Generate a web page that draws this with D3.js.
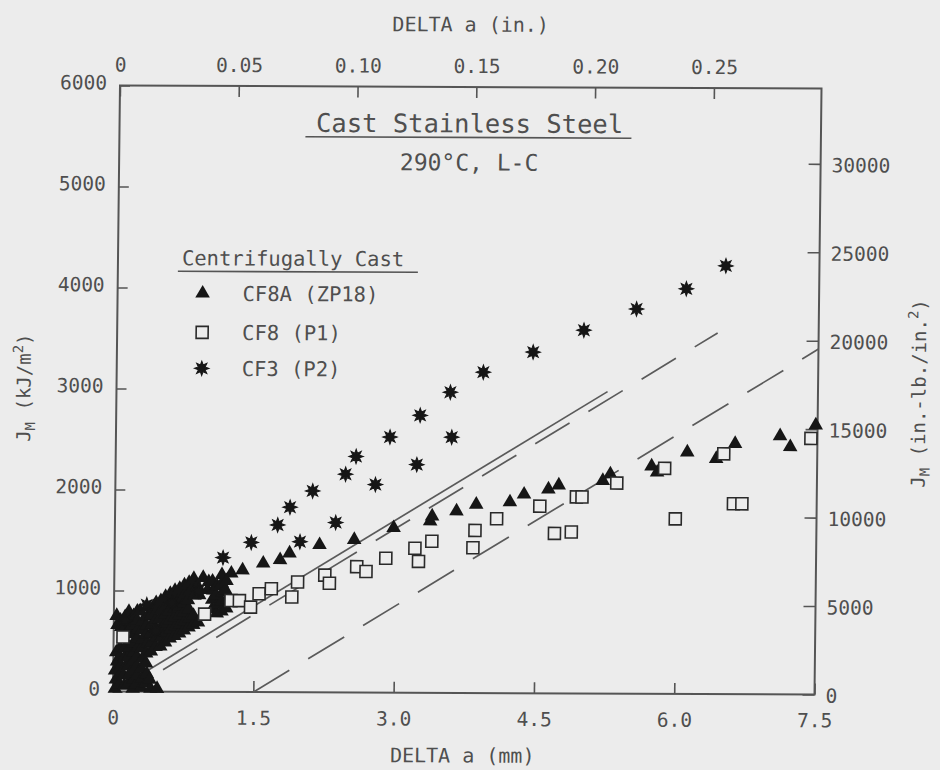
<!DOCTYPE html>
<html>
<head>
<meta charset="utf-8">
<script src="https://cdn.jsdelivr.net/npm/d3@7"></script>
<style>
  html, body { margin: 0; padding: 0; background: #ececec; }
  svg { display: block; }
  text { font-family: "DejaVu Sans Mono", monospace; fill: #4f4f4f; }
</style>
</head>
<body>
<svg id="chart" width="940" height="770"></svg>
<script>
// ---------------- data ----------------
// Crack extension (mm) and J_M (kJ/m^2) for each heat
const cf8a = [ // CF8A (ZP18)
  // early blunting region, many closely spaced readings
  [0.02,30],[0.03,120],[0.02,210],[0.04,300],[0.03,390],[0.04,660],[0.03,750],
  [0.07,75],[0.07,165],[0.08,255],[0.07,345],[0.07,435],[0.08,640],[0.07,705],
  [0.12,60],[0.11,160],[0.13,250],[0.12,340],[0.12,430],[0.13,650],[0.12,740],
  [0.16,75],[0.17,165],[0.16,255],[0.16,345],[0.17,435],[0.16,615],[0.17,705],[0.16,790],
  [0.21,30],[0.22,120],[0.20,210],[0.21,300],[0.22,390],[0.21,480],[0.22,570],[0.20,660],[0.21,750],
  [0.25,75],[0.26,165],[0.25,255],[0.25,345],[0.26,435],[0.25,525],[0.26,615],[0.25,705],[0.25,795],
  [0.30,40],[0.31,130],[0.30,230],[0.31,330],[0.30,430],[0.31,520],[0.30,610],[0.31,700],[0.28,800],
  [0.35,85],[0.36,175],[0.35,280],[0.35,380],[0.36,475],[0.35,565],[0.35,655],[0.36,745],[0.35,835],
  [0.40,30],[0.39,120],[0.47,30],[0.40,400],[0.41,490],[0.40,580],[0.41,670],[0.40,760],[0.42,840],
  [0.45,445],[0.46,535],[0.45,625],[0.45,715],[0.46,805],[0.45,880],
  [0.50,450],[0.51,540],[0.50,630],[0.49,720],[0.51,810],[0.50,900],
  [0.55,490],[0.56,585],[0.55,675],[0.55,765],[0.56,855],[0.55,940],
  [0.60,530],[0.61,620],[0.60,710],[0.59,800],[0.61,890],[0.60,970],
  [0.65,555],[0.66,645],[0.65,735],[0.65,825],[0.66,915],[0.65,1000],
  [0.70,580],[0.71,670],[0.70,760],[0.69,850],[0.71,940],[0.70,1020],
  [0.75,610],[0.76,700],[0.75,790],[0.75,880],[0.76,970],[0.75,1055],
  [0.80,640],[0.81,730],[0.80,820],[0.79,910],[0.81,1000],[0.80,1080],
  [0.85,665],[0.85,755],[0.86,955],[0.85,1045],[0.85,1120],
  [0.90,690],[0.91,960],[0.89,1050],[0.95,1130],[1.00,1010],[1.01,1090],
  [1.05,820],[1.05,915],[1.06,1005],[1.05,1095],
  [1.10,780],[1.11,870],[1.09,960],[1.10,1050],
  [1.15,800],[1.15,895],[1.16,985],[1.15,1075],[1.15,1160],
  [1.20,830],[1.21,920],[1.19,1010],[1.20,1100],[1.25,1175],
  // main curve
  [1.37,1207],[1.59,1275],[1.77,1310],[1.87,1376],[2.19,1461],[2.56,1513],
  [2.98,1632],[3.37,1700],[3.39,1749],[3.65,1800],[3.86,1867],[4.22,1892],
  [4.37,1969],[4.63,2021],[4.74,2061],[5.21,2107],[5.29,2173],[5.73,2253],
  [5.79,2193],[6.11,2393],[6.42,2330],[6.62,2479],[7.10,2558],[7.21,2450],[7.48,2666]
];
const cf8 = [ // CF8 (P1)
  [0.10,540],[0.97,770],[1.25,905],[1.34,905],[1.46,841],[1.55,974],[1.68,1024],
  [1.90,943],[1.96,1092],[2.25,1161],[2.30,1081],[2.59,1246],[2.69,1199],
  [2.90,1331],[3.21,1431],[3.25,1301],[3.39,1501],[3.83,1438],[3.85,1610],
  [4.08,1727],[4.54,1853],[4.70,1584],[4.88,1599],[4.93,1946],[4.99,1946],
  [5.36,2085],[5.87,2233],[5.99,1733],[6.50,2379],[6.61,1885],[6.70,1885],[7.43,2535]
];
const cf3 = [ // CF3 (P2)
  [0.12,700],[0.35,860],[0.45,600],[0.62,880],[0.90,1000],[1.16,1330],
  [1.46,1482],[1.74,1656],[1.87,1832],[1.98,1491],[2.11,1994],[2.36,1682],
  [2.46,2161],[2.57,2337],[2.78,2060],[2.93,2531],[3.22,2259],[3.25,2747],
  [3.57,2977],[3.59,2532],[3.92,3177],[4.45,3378],[4.99,3597],[5.55,3809],
  [6.08,4011],[6.50,4240]
];

// Blunting line and the 0.15 mm / 1.5 mm offset lines (end points)
const bluntingLine = [[0, 0], [5.25, 2990]];
const offsetLine015 = [[0.15, 0], [6.42, 3575]];
const offsetLine15 = [[1.5, 0], [7.5, 3420]];

// Tick values
const xTicksMm = [0, 1.5, 3.0, 4.5, 6.0, 7.5];
const xTicksIn = [0, 0.05, 0.10, 0.15, 0.20, 0.25];
const yTicksKJ = [0, 1000, 2000, 3000, 4000, 5000, 6000];
const yTicksInLb = [0, 5000, 10000, 15000, 20000, 25000, 30000];

const legendItems = ["CF8A (ZP18)", "CF8 (P1)", "CF3 (P2)"];

// Unit conversions
const MM_PER_IN = 25.4;
const INLB_PER_KJ = 5.7101; // 1 kJ/m^2 = 5.7101 in.-lb./in.^2

// ---------------- layout ----------------
const L = 120, T = 85.5, W = 701.5, H = 606;
const BG = "#ececec", INK = "#161616", GREY = "#555";

const svg = d3.select("#chart");
svg.append("rect").attr("width", 940).attr("height", 770).attr("fill", BG);

// the whole figure sits at a slight tilt
const root = svg.append("g")
  .attr("transform", `translate(${L},${T}) matrix(1,0.00428,-0.01155,1,0,0) translate(${-L},${-T})`);

const x = d3.scaleLinear().domain([0, 7.5]).range([L, L + W]);
const y = d3.scaleLinear().domain([0, 6000]).range([T + H, T]);
const xIn = d3.scaleLinear().domain([0, 7.5 / MM_PER_IN]).range([L, L + W]);
const yIn = d3.scaleLinear().domain([0, 6000 * INLB_PER_KJ]).range([T + H, T]);

function styleAxis(g, size) {
  g.select(".domain").remove();
  g.attr("font-family", null).attr("font-size", null).attr("color", GREY);
  g.selectAll(".tick line").attr("stroke-width", 1.6);
  g.selectAll(".tick text").style("font-size", size + "px");
}

// bottom axis (mm)
root.append("g")
  .attr("transform", `translate(0,${T + H})`)
  .call(d3.axisBottom(x).tickValues(xTicksMm)
    .tickFormat(d => d === 0 ? "0" : d.toFixed(1))
    .tickSizeInner(-11).tickSizeOuter(0).tickPadding(19))
  .call(g => styleAxis(g, 19.5));

// top axis (in.)
root.append("g")
  .attr("transform", `translate(0,${T})`)
  .call(d3.axisTop(xIn).tickValues(xTicksIn)
    .tickFormat(d => d === 0 ? "0" : d.toFixed(2))
    .tickSizeInner(-11).tickSizeOuter(0).tickPadding(14))
  .call(g => styleAxis(g, 19.5));

// left axis (kJ/m^2)
root.append("g")
  .attr("transform", `translate(${L},0)`)
  .call(d3.axisLeft(y).tickValues(yTicksKJ)
    .tickFormat(d3.format("d"))
    .tickSizeInner(-10).tickSizeOuter(0).tickPadding(13))
  .call(g => styleAxis(g, 19.5))
  .call(g => g.selectAll(".tick text").attr("dy", "0.18em"));

// right axis (in.-lb./in.^2)
root.append("g")
  .attr("transform", `translate(${L + W},0)`)
  .call(d3.axisRight(yIn).tickValues(yTicksInLb)
    .tickFormat(d3.format("d"))
    .tickSizeInner(-12).tickSizeOuter(0).tickPadding(11))
  .call(g => styleAxis(g, 19.5))
  .call(g => g.selectAll(".tick text").attr("dy", "0.4em"));

// plot frame
root.append("rect")
  .attr("x", L).attr("y", T).attr("width", W).attr("height", H)
  .attr("fill", "none").attr("stroke", GREY).attr("stroke-width", 2);

// reference lines
const line = d3.line().x(d => x(d[0])).y(d => y(d[1]));
root.append("path").datum(bluntingLine).attr("d", line)
  .attr("fill", "none").attr("stroke", "#5a5a5a").attr("stroke-width", 1.7);
root.append("path").datum(offsetLine015).attr("d", line)
  .attr("fill", "none").attr("stroke", "#5a5a5a").attr("stroke-width", 1.7)
  .attr("stroke-dasharray", "40,22").attr("stroke-dashoffset", 20);
root.append("path").datum(offsetLine15).attr("d", line)
  .attr("fill", "none").attr("stroke", "#5a5a5a").attr("stroke-width", 1.7)
  .attr("stroke-dasharray", "42,22");

// marker shapes
const triSym = d3.symbol(d3.symbolTriangle, 92);
const sqSym = d3.symbol(d3.symbolSquare, 144);
const starType = {
  draw(ctx, size) {
    const ro = Math.sqrt(size) / 2, ri = ro * 0.5;
    for (let i = 0; i < 16; i++) {
      const r = i % 2 ? ri : ro;
      const a = i * Math.PI / 8 - Math.PI / 2;
      if (i === 0) ctx.moveTo(r * Math.cos(a), r * Math.sin(a));
      else ctx.lineTo(r * Math.cos(a), r * Math.sin(a));
    }
    ctx.closePath();
  }
};
const starSym = d3.symbol(starType, 210);

function drawTri(g, data) {
  g.selectAll(null).data(data).join("path")
    .attr("transform", d => `translate(${x(d[0])},${y(d[1])})`)
    .attr("d", triSym).attr("fill", INK);
}
function drawSq(g, data) {
  g.selectAll(null).data(data).join("path")
    .attr("transform", d => `translate(${x(d[0])},${y(d[1])})`)
    .attr("d", sqSym).attr("fill", BG).attr("stroke", "#2a2a2a").attr("stroke-width", 1.6);
}
function drawStar(g, data) {
  g.selectAll(null).data(data).join("path")
    .attr("transform", d => `translate(${x(d[0])},${y(d[1])})`)
    .attr("d", starSym).attr("fill", INK).attr("stroke", INK).attr("stroke-width", 1);
}

const marks = root.append("g");
drawTri(marks.append("g"), cf8a);
drawSq(marks.append("g"), cf8);
drawStar(marks.append("g"), cf3);

// title
root.append("text").attr("x", 470).attr("y", 131).attr("text-anchor", "middle")
  .style("font-size", "25.5px").text("Cast Stainless Steel");
root.append("line").attr("x1", 306).attr("x2", 632).attr("y1", 136).attr("y2", 136)
  .attr("stroke", GREY).attr("stroke-width", 1.6);
root.append("text").attr("x", 470).attr("y", 169).attr("text-anchor", "middle")
  .style("font-size", "23px").text("290°C, L-C");

// legend
const lg = root.append("g");
lg.append("text").attr("x", 184).attr("y", 265).style("font-size", "20.5px").text("Centrifugally Cast");
lg.append("line").attr("x1", 180).attr("x2", 420).attr("y1", 271).attr("y2", 271)
  .attr("stroke", GREY).attr("stroke-width", 1.6);
const legendY = [293, 332, 368];
const legendSym = [triSym, sqSym, starSym];
legendItems.forEach((label, i) => {
  const p = lg.append("path").attr("transform", `translate(205,${legendY[i]})`).attr("d", legendSym[i]);
  if (i === 1) p.attr("fill", BG).attr("stroke", "#2a2a2a").attr("stroke-width", 1.6);
  else p.attr("fill", INK).attr("stroke", i === 2 ? INK : "none").attr("stroke-width", 1);
  lg.append("text").attr("x", 245).attr("y", legendY[i]).attr("dy", "0.36em")
    .style("font-size", "20.5px").text(label);
});

// axis titles
root.append("text").attr("x", 470).attr("y", 761).attr("text-anchor", "middle")
  .style("font-size", "20px").text("DELTA a (mm)");
root.append("text").attr("x", 470).attr("y", 30).attr("text-anchor", "middle")
  .style("font-size", "20px").text("DELTA a (in.)");

const yl = root.append("text").attr("transform", "translate(34,388) rotate(-90)")
  .attr("text-anchor", "middle").style("font-size", "19px");
yl.append("tspan").text("J");
yl.append("tspan").attr("dy", 5).style("font-size", "14px").text("M");
yl.append("tspan").attr("dy", -5).text(" (kJ/m");
yl.append("tspan").attr("dy", -8).style("font-size", "14px").text("2");
yl.append("tspan").attr("dy", 8).text(")");

const yr = root.append("text").attr("transform", "translate(929,390) rotate(-90)")
  .attr("text-anchor", "middle").style("font-size", "19px");
yr.append("tspan").text("J");
yr.append("tspan").attr("dy", 5).style("font-size", "14px").text("M");
yr.append("tspan").attr("dy", -5).text(" (in.-lb./in.");
yr.append("tspan").attr("dy", -8).style("font-size", "14px").text("2");
yr.append("tspan").attr("dy", 8).text(")");
</script>
</body>
</html>
